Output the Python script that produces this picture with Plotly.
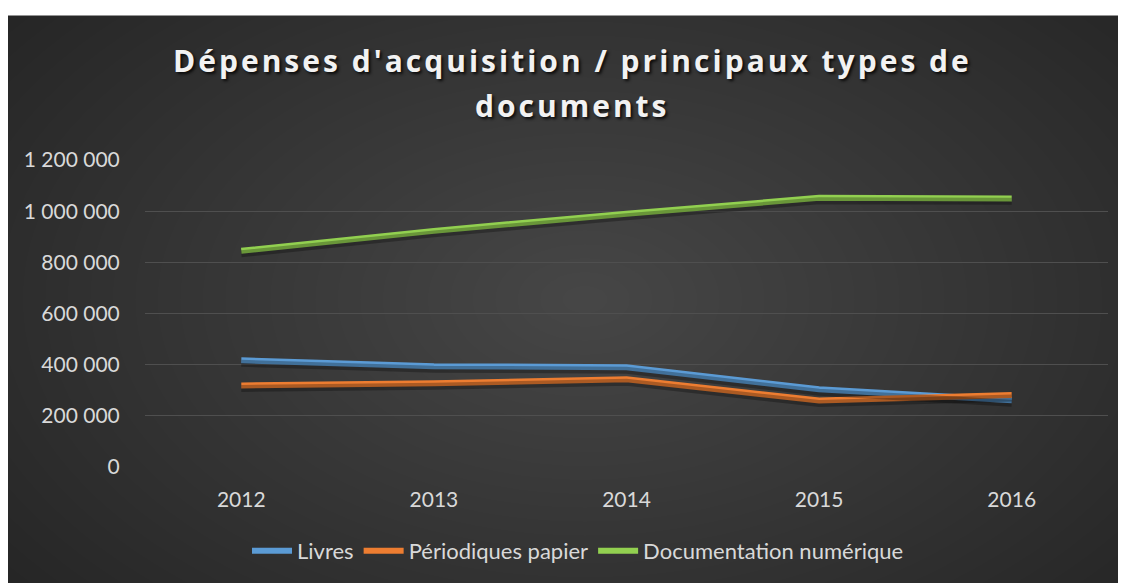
import plotly.graph_objects as go

years = ["2012", "2013", "2014", "2015", "2016"]
livres = [417000, 394000, 390000, 304000, 261000]
periodiques = [319000, 327000, 343000, 260000, 281000]
numerique = [845000, 923000, 990000, 1052000, 1050000]

names = ["Livres", "Périodiques papier", "Documentation numérique"]
colors = ["#5B9BD5", "#ED7D31", "#92D050"]
series = [livres, periodiques, numerique]

OFF = 8  # page body margin
W, H = 1118, 575
# plot area in screen coordinates
SX0, SX1, SY0, SY1 = 145, 1108, 160, 468
L, R = SX0 - OFF, OFF + W - SX1
T, B = SY0 - OFF, OFF + H - SY1
PW, PH = SX1 - SX0, SY1 - SY0
YMAX = 1200000

def px(x):
    return (x - SX0) / PW

def py(y):
    return (SY1 - y) / PH

fig = go.Figure()

shift = 3 * YMAX / PH
for vals in series:
    fig.add_trace(go.Scatter(x=years, y=vals, mode="lines", yaxis="y2",
                             line=dict(color="rgba(0,0,0,0.28)", width=7),
                             showlegend=False, hoverinfo="skip"))
for n, c, vals in zip(names, colors, series):
    fig.add_trace(go.Scatter(x=years, y=vals, mode="lines", name=n,
                             line=dict(color=c, width=6)))

shapes = []
shapes.append(dict(type="rect", xref="paper", yref="paper", x0=px(0), x1=px(1140),
                   y0=py(600), y1=py(15), fillcolor="#262626", line_width=0, layer="below"))
cxp, cyp = 585, 300
N = 32
for i in range(N):
    r = 720 * (1 - i / N)
    rx, ry = r, r * 0.62
    shapes.append(dict(type="circle", xref="paper", yref="paper",
                       x0=px(cxp - rx), x1=px(cxp + rx), y0=py(cyp + ry), y1=py(cyp - ry),
                       fillcolor="rgba(255,255,255,0.0066)", line_width=0, layer="below"))
shapes.append(dict(type="rect", xref="paper", yref="paper", x0=px(0), x1=px(1140),
                   y0=py(15), y1=py(0), fillcolor="white", line_width=0, layer="below"))

title_font = dict(family="Open Sans", size=30, color="#f2f2f2", weight="bold",
                  shadow="2px 2px 3px rgba(0,0,0,0.8)")
def spaced(t):
    return '<span style="letter-spacing:3px">' + t + '</span>'
annotations = [
    dict(text=spaced("Dépenses d'acquisition / principaux types de"), x=px(572), y=py(60),
         xref="paper", yref="paper", showarrow=False, font=title_font,
         xanchor="center", yanchor="middle"),
    dict(text=spaced("documents"), x=px(572), y=py(105),
         xref="paper", yref="paper", showarrow=False, font=title_font,
         xanchor="center", yanchor="middle"),
]

fig.update_layout(
    width=W, height=H,
    margin=dict(l=L, r=R, t=T, b=B, pad=0),
    paper_bgcolor="#262626",
    plot_bgcolor="rgba(0,0,0,0)",
    separators=", ",
    shapes=shapes,
    annotations=annotations,
    font=dict(family="Lato", size=21, color="#d9d9d9"),
    xaxis=dict(type="category", range=[-0.5, 4.5], showgrid=False, zeroline=False,
               showline=False, ticks="outside", ticklen=14, tickcolor="rgba(0,0,0,0)",
               tickfont=dict(size=21, color="#d9d9d9")),
    yaxis=dict(range=[0, YMAX], dtick=200000, tickformat=",d", showgrid=True,
               gridcolor="#4f4f4f", gridwidth=1, zeroline=False, showline=False,
               ticks="outside", ticklen=20, tickcolor="rgba(0,0,0,0)",
               tickfont=dict(size=21, color="#d9d9d9")),
    yaxis2=dict(range=[shift, YMAX + shift], overlaying="y", visible=False),
    legend=dict(orientation="h", x=px(578), y=py(551), xanchor="center", yanchor="middle",
                font=dict(size=22, color="#d9d9d9"), bgcolor="rgba(0,0,0,0)",
                itemwidth=40, tracegroupgap=0),
    showlegend=True,
)

fig.write_html("out.html")
